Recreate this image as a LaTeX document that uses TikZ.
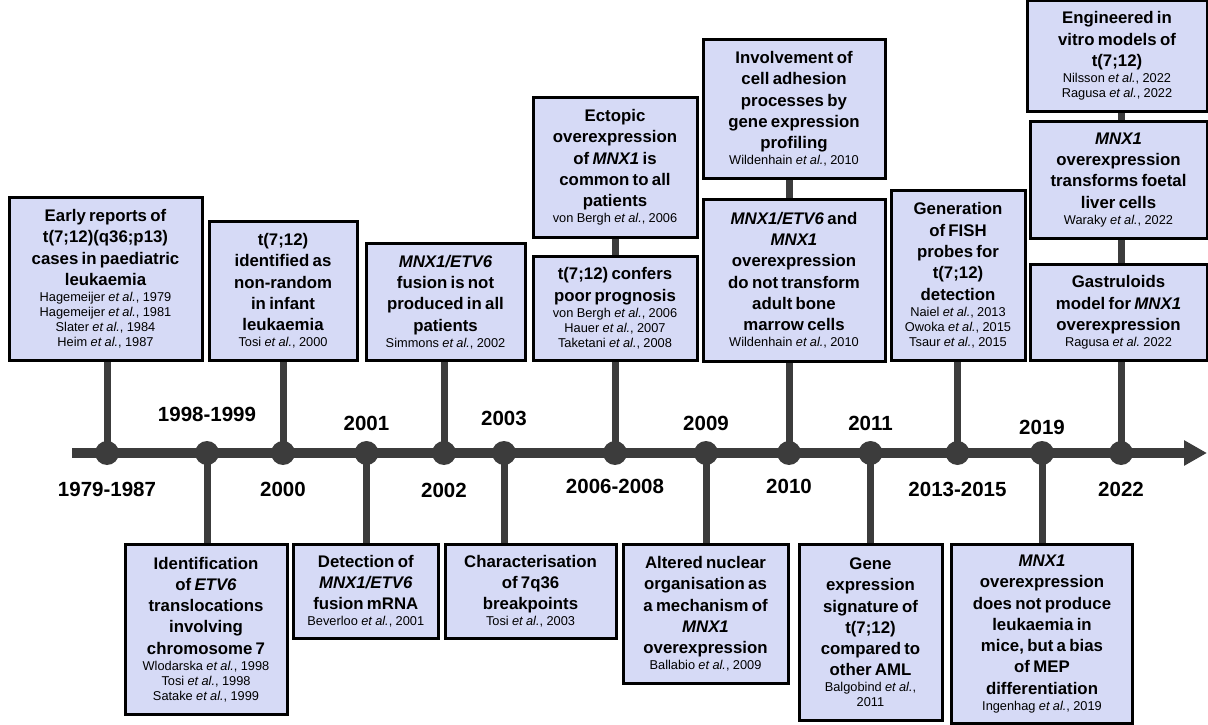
\documentclass[tikz,border=0pt]{standalone}
\usepackage{fontspec}
\setmainfont{Liberation Sans}
\usepackage{xcolor}
\usepackage{tikz}
\usetikzlibrary{positioning}
\usetikzlibrary{arrows.meta}
\definecolor{boxblue}{RGB}{214,218,246}
\definecolor{stemgray}{RGB}{60,60,60}
\newcommand{\ttl}{\fontsize{16.8}{21.3}\selectfont\bfseries}
\newcommand{\rf}{\fontsize{12.8}{15}\selectfont\mdseries}
\newcommand{\yrfont}{\fontsize{20.5}{24}\selectfont\bfseries}
\newcommand{\etal}{\textit{et al.}}
\newcommand{\ev}[2]{{\ttl #1\par}\vspace{1pt}{\rf #2\par}}
\tikzstyle{ebox} = [rectangle, draw=black, fill=boxblue, line width=3pt,
align=center, inner xsep=0pt, inner ysep=3pt]
\tikzstyle{yearpt} = [circle, fill=stemgray, inner sep=0pt, minimum size=24pt]
\tikzstyle{stem} = [draw=stemgray, line width=7pt]
\tikzstyle{tline} = [draw=stemgray, line width=10pt, -{Triangle[length=23pt,width=24pt]}]
\tikzstyle{yr} = [inner sep=0pt, font=\yrfont]
\pgfdeclarelayer{back}
\pgfsetlayers{back,main}
\newcommand{\vedge}[3][]{ %
  % Drop a stem from point #2 to each box side in #3.
  \foreach \tgt in {#3} { %
    \draw[stem, #1] (#2.center) -- (#2 |- \tgt) ;%
  } ;
}
\begin{document}
\begin{tikzpicture}[x=1pt, y=1pt]
  \useasboundingbox (0,0) rectangle (1208,724);
  % time line
  \coordinate (T0) at (72,271);
  \coordinate (T1) at (1207,271);
  % year points
  \node[yearpt] (P1) at (107,271) {};
  \node[yearpt] (P2) at (207,271) {};
  \node[yearpt] (P3) at (283,271) {};
  \node[yearpt] (P4) at (366.5,271) {};
  \node[yearpt] (P5) at (444,271) {};
  \node[yearpt] (P6) at (504,271) {};
  \node[yearpt] (P7) at (615,271) {};
  \node[yearpt] (P8) at (706,271) {};
  \node[yearpt] (P9) at (789,271) {};
  \node[yearpt] (P10) at (870.5,271) {};
  \node[yearpt] (P11) at (957.5,271) {};
  \node[yearpt] (P12) at (1042,271) {};
  \node[yearpt] (P13) at (1121,271) {};
  % years below the line
  \node[yr, below = 16.4pt of P1] (Y1) {1979-1987};
  \node[yr, below = 16.4pt of P3] (Y3) {2000};
  \node[yr, below = 18pt of P5] (Y5) {2002};
  \node[yr, below = 13.7pt of P7] (Y7) {2006-2008};
  \node[yr, below = 13.7pt of P9] (Y9) {2010};
  \node[yr, below = 16.4pt of P11] (Y11) {2013-2015};
  \node[yr, below = 16.4pt of P13] (Y13) {2022};
  % years above the line
  \node[yr, above = 18.6pt of P2] (Y2) {1998-1999};
  \node[yr, above = 10.3pt of P4] (Y4) {2001};
  \node[yr, above = 15.3pt of P6] (Y6) {2003};
  \node[yr, above = 10.3pt of P8] (Y8) {2009};
  \node[yr, above = 10.3pt of P10] (Y10) {2011};
  \node[yr, above = 6.3pt of P12] (Y12) {2019};
  % upper boxes
  \node[ebox, text width=193pt, minimum height=163pt, above = 79pt of P1, xshift=-1.5pt] (A1)
    {\ev{Early reports of\\t(7;12)(q36;p13)\\cases in paediatric\\leukaemia}
        {Hagemeijer \etal, 1979\\Hagemeijer \etal, 1981\\Slater \etal, 1984\\Heim \etal, 1987}};
  \node[ebox, text width=148pt, minimum height=139pt, above = 79pt of P3] (A2)
    {\ev{t(7;12)\\identified as\\non-random\\in infant\\leukaemia}{Tosi \etal, 2000}};
  \node[ebox, text width=159pt, minimum height=117pt, above = 79pt of P5, xshift=1.5pt] (A3)
    {\ev{\textit{MNX1/ETV6}\\fusion is not\\produced in all\\patients}{Simmons \etal, 2002}};
  \node[ebox, text width=164pt, minimum height=104pt, above = 79pt of P7] (A4)
    {\ev{t(7;12) confers\\poor prognosis}
        {von Bergh \etal, 2006\\Hauer \etal, 2007\\Taketani \etal, 2008}};
  \node[ebox, text width=164pt, minimum height=140pt, above = 16pt of A4] (A4u)
    {\ev{Ectopic\\overexpression\\of \textit{MNX1} is\\common to all\\patients}{von Bergh \etal, 2006}};
  \node[ebox, text width=182pt, minimum height=162pt, above = 78pt of P9, xshift=5pt] (A5)
    {\ev{\textit{MNX1/ETV6} and\\\textit{MNX1}\\overexpression\\do not transform\\adult bone\\marrow cells}
        {Wildenhain \etal, 2010}};
  \node[ebox, text width=182pt, minimum height=139pt, above = 18pt of A5] (A5u)
    {\ev{Involvement of\\cell adhesion\\processes by\\gene expression\\profiling}{Wildenhain \etal, 2010}};
  \node[ebox, text width=134pt, minimum height=170pt, above = 79pt of P11, xshift=0.5pt] (A6)
    {\ev{Generation\\of FISH\\probes for\\t(7;12)\\detection}
        {Naiel \etal, 2013\\Owoka \etal, 2015\\Tsaur \etal, 2015}};
  \node[ebox, text width=177pt, minimum height=96pt, above = 79pt of P13, xshift=-2.5pt] (A7)
    {\ev{Gastruloids\\model for \textit{MNX1}\\overexpression}{Ragusa \etal\ 2022}};
  \node[ebox, text width=177pt, minimum height=117pt, above = 23pt of A7] (A7m)
    {\ev{\textit{MNX1}\\overexpression\\transforms foetal\\liver cells}{Waraky \etal, 2022}};
  \node[ebox, text width=180pt, minimum height=111pt, above = 7pt of A7m, xshift=-1.5pt] (A7t)
    {\ev{Engineered in\\vitro models of\\t(7;12)}{Nilsson \etal, 2022\\Ragusa \etal, 2022}};
  % lower boxes
  \node[ebox, text width=162pt, minimum height=170pt, below = 77.7pt of P2, xshift=-1pt] (B1)
    {\ev{Identification\\of \textit{ETV6}\\translocations\\involving\\chromosome 7}
        {Wlodarska \etal, 1998\\Tosi \etal, 1998\\Satake \etal, 1999}};
  \node[ebox, text width=145pt, minimum height=94pt, below = 77.7pt of P4, xshift=-0.7pt] (B2)
    {\ev{Detection of\\\textit{MNX1/ETV6}\\fusion mRNA}{Beverloo \etal, 2001}};
  \node[ebox, text width=171pt, minimum height=94pt, below = 77.7pt of P6, xshift=26.5pt] (B3)
    {\ev{Characterisation\\of 7q36\\breakpoints}{Tosi \etal, 2003}};
  \node[ebox, text width=165pt, minimum height=139pt, below = 77.7pt of P8, xshift=-0.5pt] (B4)
    {\ev{Altered nuclear\\organisation as\\a mechanism of\\\textit{MNX1}\\overexpression}{Ballabio \etal, 2009}};
  \node[ebox, text width=143pt, minimum height=176pt, below = 77.7pt of P10] (B5)
    {\ev{Gene\\expression\\signature of\\t(7;12)\\compared to\\other AML}{Balgobind \etal,\\2011}};
  \node[ebox, text width=181pt, minimum height=179pt, below = 77.7pt of P12] (B6)
    {\ev{\textit{MNX1}\\overexpression\\does not produce\\leukaemia in\\mice, but a bias\\of MEP\\differentiation}
        {Ingenhag \etal, 2019}};

  % stems and line
  \begin{pgfonlayer}{back}
    \draw[tline] (T0) -- (T1);
    \vedge {P1} {A1.south}
    \vedge {P2} {B1.north}
    \vedge {P3} {A2.south}
    \vedge {P4} {B2.north}
    \vedge {P5} {A3.south}
    \vedge {P6} {B3.north}
    \vedge {P7} {A4u.south}
    \vedge {P8} {B4.north}
    \vedge {P9} {A5u.south}
    \vedge {P10} {B5.north}
    \vedge {P11} {A6.south}
    \vedge {P12} {B6.north}
    \vedge {P13} {A7t.south}
  \end{pgfonlayer}
\end{tikzpicture}
\end{document}
